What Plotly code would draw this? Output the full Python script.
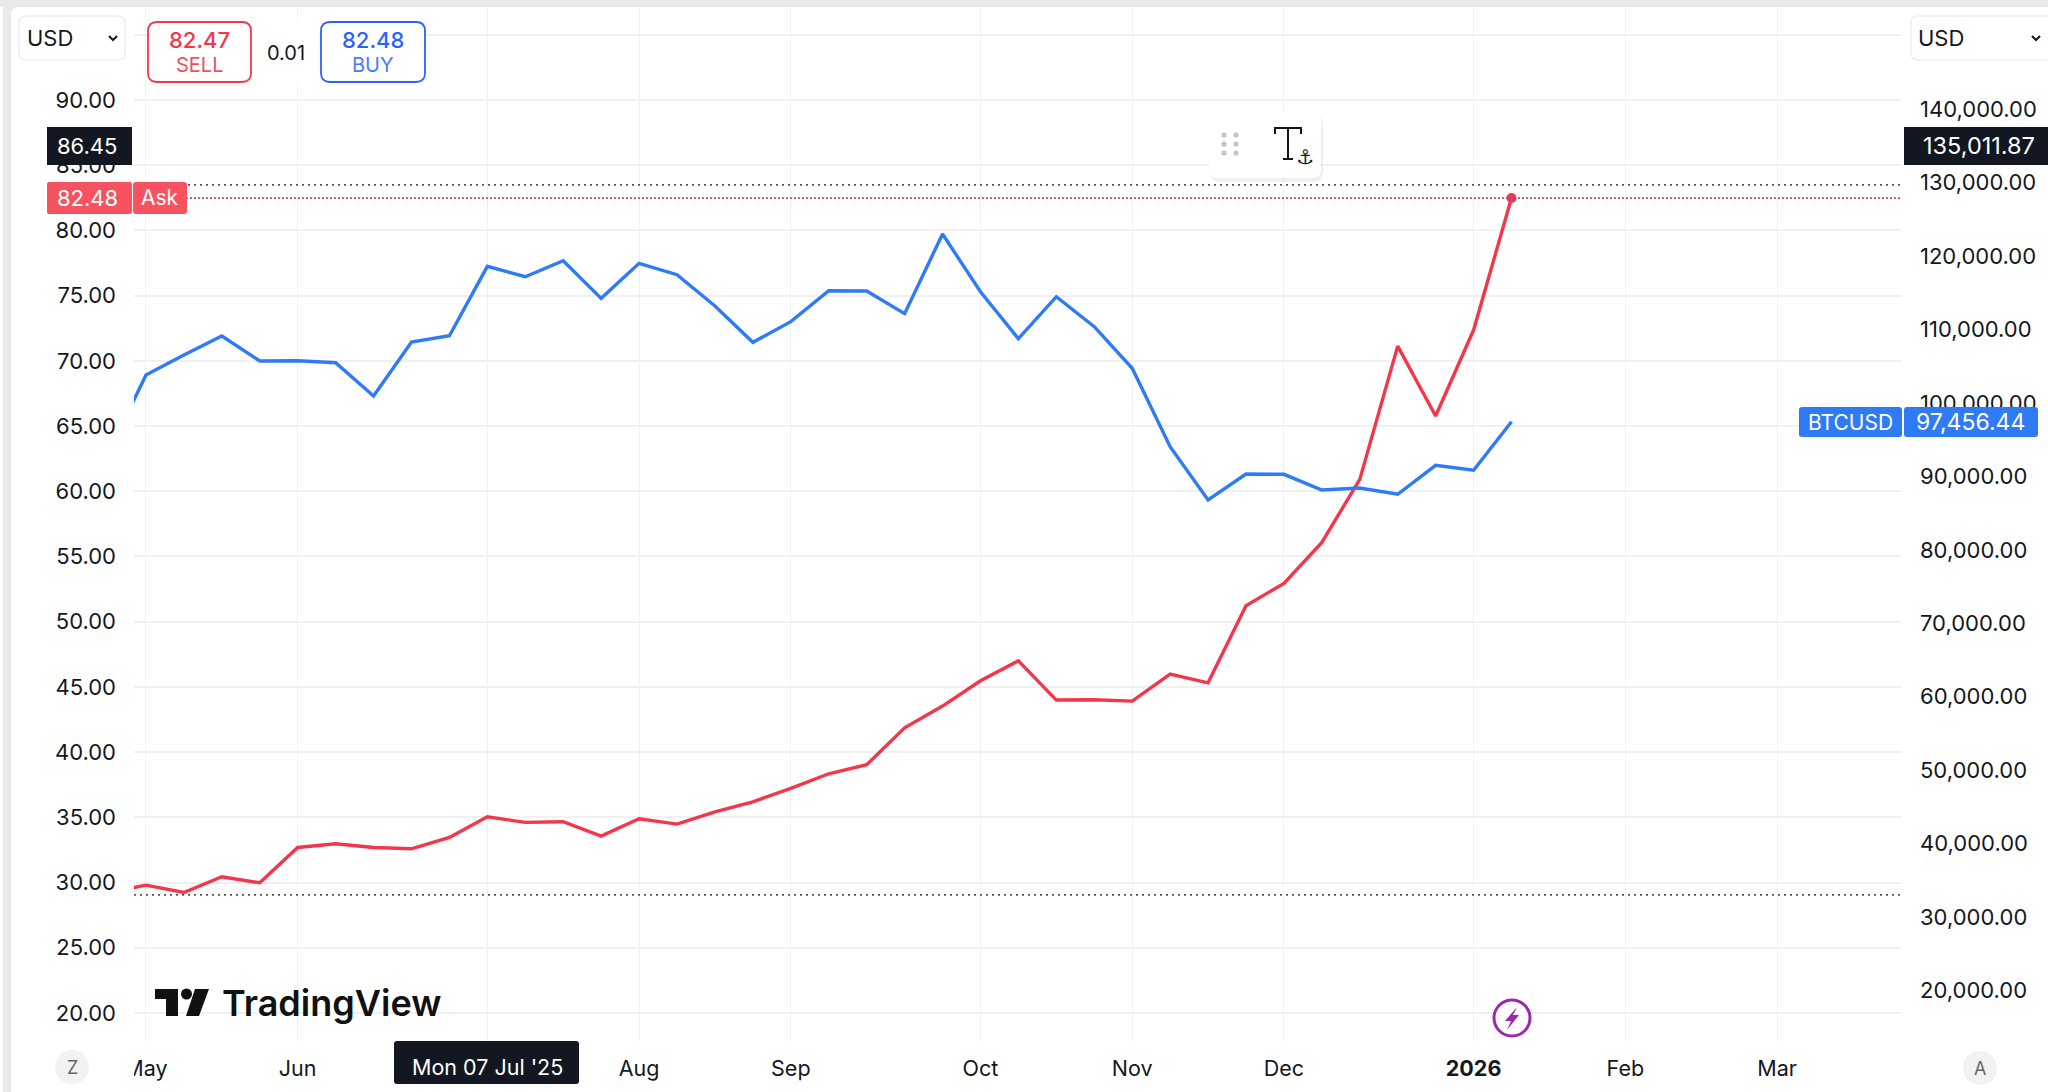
import plotly.graph_objects as go

# ---------- data ----------
weeks = ["2025-04-28","2025-05-05","2025-05-12","2025-05-19","2025-05-26","2025-06-02","2025-06-09","2025-06-16",
         "2025-06-23","2025-06-30","2025-07-07","2025-07-14","2025-07-21","2025-07-28","2025-08-04","2025-08-11",
         "2025-08-18","2025-08-25","2025-09-01","2025-09-08","2025-09-15","2025-09-22","2025-09-29","2025-10-06",
         "2025-10-13","2025-10-20","2025-10-27","2025-11-03","2025-11-10","2025-11-17","2025-11-24","2025-12-01",
         "2025-12-08","2025-12-15","2025-12-22","2025-12-29","2026-01-05","2026-01-12"]
ask_series = [29.2,29.80,29.24,30.44,29.98,32.69,32.97,32.69,32.59,33.46,35.04,34.61,34.66,33.56,34.89,34.48,
              35.42,36.19,37.22,38.34,39.03,41.86,43.53,45.47,47.00,43.99,44.01,43.91,45.98,45.31,51.22,52.94,
              56.08,60.91,71.13,65.77,72.36,82.48]
btcusd = [93060,103820,106540,109130,105720,105760,105490,100960,108310,109170,118620,117200,119380,114260,119030,
          117480,113210,108270,111080,115300,115250,112170,123020,115160,108760,114480,110400,104730,94050,86790,
          90330,90290,88150,88430,87570,91520,90840,97456.44]
month_ticks = ["2025-05-05","2025-06-02","2025-07-07","2025-08-04","2025-09-01","2025-10-06","2025-11-03",
               "2025-12-01","2026-01-05","2026-02-02","2026-03-02"]
month_labels = ["May","Jun","","Aug","Sep","Oct","Nov","Dec","<b>2026</b>","Feb","Mar"]
left_ticks = [20,25,30,35,40,45,50,55,60,65,70,75,80,85,90,95]
left_labels = ["%.2f" % v for v in left_ticks[:-1]] + [""]
right_ticks = [20000,30000,40000,50000,60000,70000,80000,90000,100000,110000,120000,130000,140000]
hi_level, ask_level, lo_level = 83.49, 82.48, 29.06

W, H = 2048, 1092
L, R, T, B = 134, 1901, 7, 1041
RED, BLUE, INK = "#F4364C", "#2F7BF5", "#131722"
FONT = "Inter"

def px(x): return (x - L) / (R - L)
def py(y): return (B - y) / (B - T)

shapes, notes = [], []

def rect(x0, y0, x1, y1, fill, line=None, lw=1.5, r=0):
    a, b, c, d = px(x0), py(y0), px(x1), py(y1)
    if r:
        rx, ry = r / (R - L), r / (B - T)
        p = (f"M{a+rx},{b} L{c-rx},{b} Q{c},{b} {c},{b-ry} L{c},{d+ry} Q{c},{d} {c-rx},{d} "
             f"L{a+rx},{d} Q{a},{d} {a},{d+ry} L{a},{b-ry} Q{a},{b} {a+rx},{b} Z")
    else:
        p = f"M{a},{b} L{c},{b} L{c},{d} L{a},{d} Z"
    shapes.append(dict(type="path", path=p, xref="paper", yref="paper", fillcolor=fill, layer="above",
                       line=dict(color=line or "rgba(0,0,0,0)", width=lw if line else 0)))

def poly(points, fill=None, line=None, lw=1.5):
    p = "M" + " L".join(f"{px(x)},{py(y)}" for x, y in points) + (" Z" if fill else "")
    shapes.append(dict(type="path", path=p, xref="paper", yref="paper", layer="above",
                       fillcolor=fill or "rgba(0,0,0,0)",
                       line=dict(color=line or "rgba(0,0,0,0)", width=lw if line else 0)))

def circle(cx, cy, rad, fill, line=None, lw=1.5):
    shapes.append(dict(type="circle", xref="paper", yref="paper", layer="above",
                       x0=px(cx-rad), x1=px(cx+rad), y0=py(cy+rad), y1=py(cy-rad), fillcolor=fill,
                       line=dict(color=line or "rgba(0,0,0,0)", width=lw if line else 0)))

def note(x, y, text, size=22, color=INK, anchor="center", family=FONT, weight=None):
    f = dict(size=size, color=color, family=family)
    if weight: f["weight"] = weight
    notes.append(dict(x=px(x), y=py(y), xref="paper", yref="paper", text=text, showarrow=False,
                      xanchor=anchor, yanchor="middle", font=f, borderpad=0))

def level(value, color, dash, width=1.8):
    shapes.append(dict(type="line", xref="paper", yref="y", x0=0, x1=1, y0=value, y1=value, layer="above",
                       line=dict(color=color, width=width, dash=dash)))

# window frame
rect(0, 0, W, 7, "#EAEAEA")
rect(3, 0, 11, H, "#EAEAEA")
poly([(11, 7), (17, 7), (13, 9), (11, 13)], fill="#EAEAEA")

# price levels
level(hi_level, "#555555", "2px,4px")
level(lo_level, "#555555", "2px,4px")
level(ask_level, "#3F6BF0", "2px,6px")
level(ask_level, RED, "0px,4px,2px,2px")

# top-left panel
rect(148, 22, 425, 82, "#FFFFFF")
rect(148, 22, 251, 82, "#FFFFFF", RED, 1.8, 9)
rect(321, 22, 425, 82, "#FFFFFF", "#2962FF", 1.8, 9)
note(199.5, 40, "82.47", 22, RED, weight=500)
note(199.5, 65, "SELL", 20, "#F4505F")
note(373, 40, "82.48", 22, "#2962FF", weight=500)
note(373, 65, "BUY", 20, "#4A7BFF")
note(286, 53, "0.01", 20, INK)

# currency selectors
rect(19, 16, 125, 60, "#FFFFFF", "#EEEEEE", 1.5, 7)
note(26, 38, "USD", 22, INK, anchor="left")
poly([(109, 36), (113, 40), (117, 36)], line=INK, lw=2)
rect(1911, 16, 2060, 60, "#FFFFFF", "#EEEEEE", 1.5, 7)
note(1917, 38, "USD", 22, INK, anchor="left")
poly([(2032, 36), (2036, 40), (2040, 36)], line=INK, lw=2)

# left axis labels
rect(47, 127, 132, 165, INK)
note(87, 146, "86.45", 22, "#FFFFFF")
rect(47, 182, 132, 214, "#F7525F", r=2)
note(87, 198, "82.48", 22, "#FFFFFF")
rect(133, 182, 187, 214, "#F7525F", r=3)
note(160, 198, "Ask", 21, "#FFFFFF")

# right axis labels
rect(1904, 127, W, 165, INK)
note(1979, 146, "135,011.87", 23.5, "#FFFFFF")
rect(1799, 407, 1902, 437, BLUE, r=3)
note(1850, 422, "BTCUSD", 21, "#FFFFFF")
rect(1904, 407, 2038, 437, BLUE, r=3)
note(1971, 422, "97,456.44", 23, "#FFFFFF")

# floating text tool
rect(1210, 114, 1323, 182, "rgba(0,0,0,0.06)", r=10)
rect(1209, 111, 1321, 178, "#FFFFFF", r=9)
for dx in (1224, 1236):
    for dy in (135, 144, 153):
        circle(dx, dy, 2.6, "#C4C4C4")
poly([(1275, 134), (1275, 128), (1301, 128), (1301, 134)], line=INK, lw=2)
poly([(1288, 128), (1288, 159)], line=INK, lw=2)
poly([(1283, 159), (1293, 159)], line=INK, lw=2)
note(1305, 157, "\u2693", 20, INK, family="DejaVu Sans")

# lightning badge
circle(1512, 1018, 18, "#FFFFFF", "#9C27B0", 3)
poly([(1517, 1007), (1505, 1021), (1511, 1021), (1507, 1030), (1519, 1015), (1513, 1015)], fill="#9C27B0")

# TradingView watermark
poly([(155, 989), (178, 989), (178, 1016), (166, 1016), (166, 999), (155, 999)], fill="#111111")
circle(186.5, 994, 5.5, "#111111")
poly([(195, 989), (209, 989), (199, 1016), (186, 1016)], fill="#111111")
note(221, 1003, "TradingView", 36, "#111111", anchor="left", weight=600)

# time axis furniture
rect(112, 1043, 134, 1090, "#FFFFFF")
rect(394, 1041, 579, 1084, INK, r=3)
note(487, 1067, "Mon 07 Jul '25", 21.5, "#FFFFFF")
circle(72, 1067, 17, "#F2F2F2")
note(72, 1067, "Z", 18, "#666666")
circle(1980, 1068, 17, "#F2F2F2")
note(1980, 1068, "A", 18, "#666666")

fig = go.Figure()
fig.add_trace(go.Scatter(x=weeks, y=btcusd, yaxis="y2", mode="lines", line=dict(color=BLUE, width=3.4),
                         name="BTCUSD", hoverinfo="skip"))
fig.add_trace(go.Scatter(x=weeks, y=ask_series, mode="lines", line=dict(color=RED, width=3.4),
                         name="Ask", hoverinfo="skip"))
fig.add_trace(go.Scatter(x=weeks[-1:], y=ask_series[-1:], mode="markers", marker=dict(color=RED, size=10),
                         showlegend=False, hoverinfo="skip"))

grid = "#F0F0F2"
fig.update_layout(
    width=W, height=H, margin=dict(l=L, r=W-R, t=T, b=H-B), autosize=False,
    paper_bgcolor="#FFFFFF", plot_bgcolor="#FFFFFF", showlegend=False,
    font=dict(family=FONT, size=22, color=INK),
    shapes=shapes, annotations=notes,
    xaxis=dict(type="date", range=["2025-05-02 19:00", "2026-03-24 21:00"], tickmode="array",
               tickvals=month_ticks, ticktext=month_labels, showgrid=True, gridcolor=grid, gridwidth=1.4,
               zeroline=False, showline=False, ticks="", tickfont=dict(size=21.5, color=INK, family=FONT),
               ticklabelstandoff=12),
    yaxis=dict(range=[17.85, 97.13], tickmode="array", tickvals=left_ticks, ticktext=left_labels,
               showgrid=True, gridcolor=grid, gridwidth=2, zeroline=False, showline=False, ticks="",
               tickfont=dict(size=22, color=INK, family=FONT), ticklabelstandoff=17),
    yaxis2=dict(range=[13094, 153947], overlaying="y", side="right", anchor="x", tickmode="array",
                tickvals=right_ticks, tickformat=",.2f", showgrid=False, zeroline=False, showline=False,
                ticks="", tickfont=dict(size=22, color=INK, family=FONT), ticklabelstandoff=18),
)
fig.write_html("out.html", config=dict(displayModeBar=False), post_script="document.body.style.margin='0';")
